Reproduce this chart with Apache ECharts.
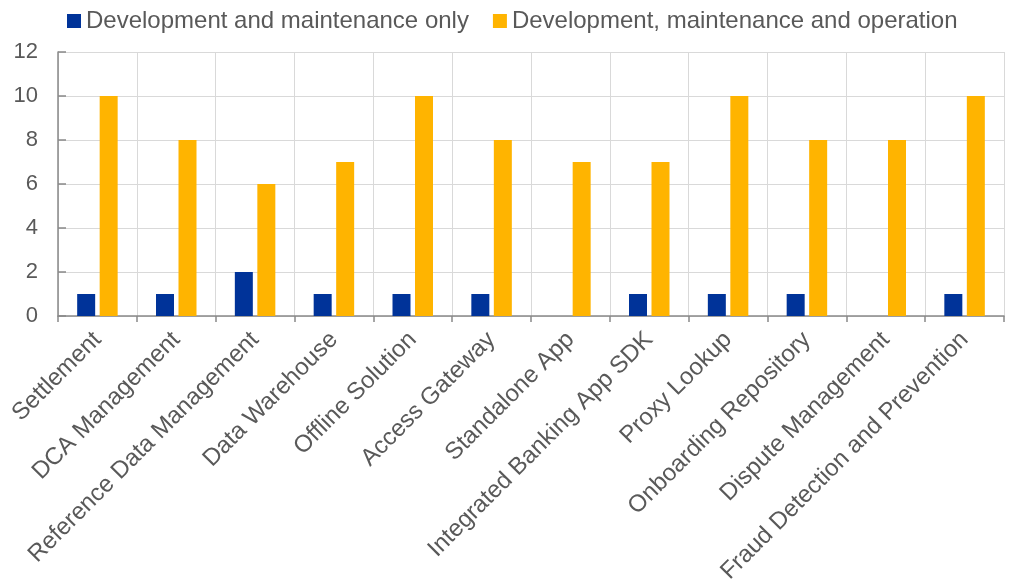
<!DOCTYPE html>
<html><head><meta charset="utf-8">
<script src="https://cdn.jsdelivr.net/npm/echarts@6/dist/echarts.min.js"></script>
<style>html,body{margin:0;padding:0;background:#fff}#c{width:1009px;height:584px}</style>
</head><body><div id="c"></div>
<script>
var categories = ["Settlement","DCA Management","Reference Data Management","Data Warehouse","Offline Solution","Access Gateway","Standalone App","Integrated Banking App SDK","Proxy Lookup","Onboarding Repository","Dispute Management","Fraud Detection and Prevention"];
var devMaintOnly = [1,1,2,1,1,1,0,1,1,1,0,1];
var devMaintOp = [10,8,6,7,10,8,7,7,10,8,8,10];
var seriesNames = ["Development and maintenance only","Development, maintenance and operation"];
var chart = echarts.init(document.getElementById('c'));
var font = 'Liberation Sans, Arial, sans-serif';
chart.setOption({
  animation:false,
  legend:{top:4,left:62,itemWidth:14,itemHeight:14,itemGap:24,icon:'rect',
    textStyle:{fontFamily:font,fontSize:24,color:'#595959'},data:seriesNames},
  grid:{left:58,right:5,top:52,bottom:268,containLabel:false,outerBoundsMode:'none'},
  xAxis:{type:'category',data:categories,
    axisLine:{lineStyle:{color:'#898989',width:1.5}},
    axisTick:{show:true,length:6,lineStyle:{color:'#898989',width:1.5}},
    splitLine:{show:true,lineStyle:{color:'#d9d9d9',width:1}},
    axisLabel:{rotate:45,interval:0,margin:20,fontFamily:font,fontSize:24,color:'#595959'}},
  yAxis:{type:'value',min:0,max:12,interval:2,
    axisLine:{show:true,lineStyle:{color:'#898989',width:1.5}},
    axisTick:{show:true,inside:true,length:8,lineStyle:{color:'#898989',width:1.5}},
    splitLine:{show:true,lineStyle:{color:'#d9d9d9',width:1}},
    axisLabel:{margin:20,fontFamily:font,fontSize:22,color:'#595959'}},
  series:[
    {name:seriesNames[0],type:'bar',data:devMaintOnly,barWidth:18,barGap:'25%',itemStyle:{color:'#003399'}},
    {name:seriesNames[1],type:'bar',data:devMaintOp,barWidth:18,barGap:'25%',itemStyle:{color:'#FFB400'}}
  ]
});
</script></body></html>
